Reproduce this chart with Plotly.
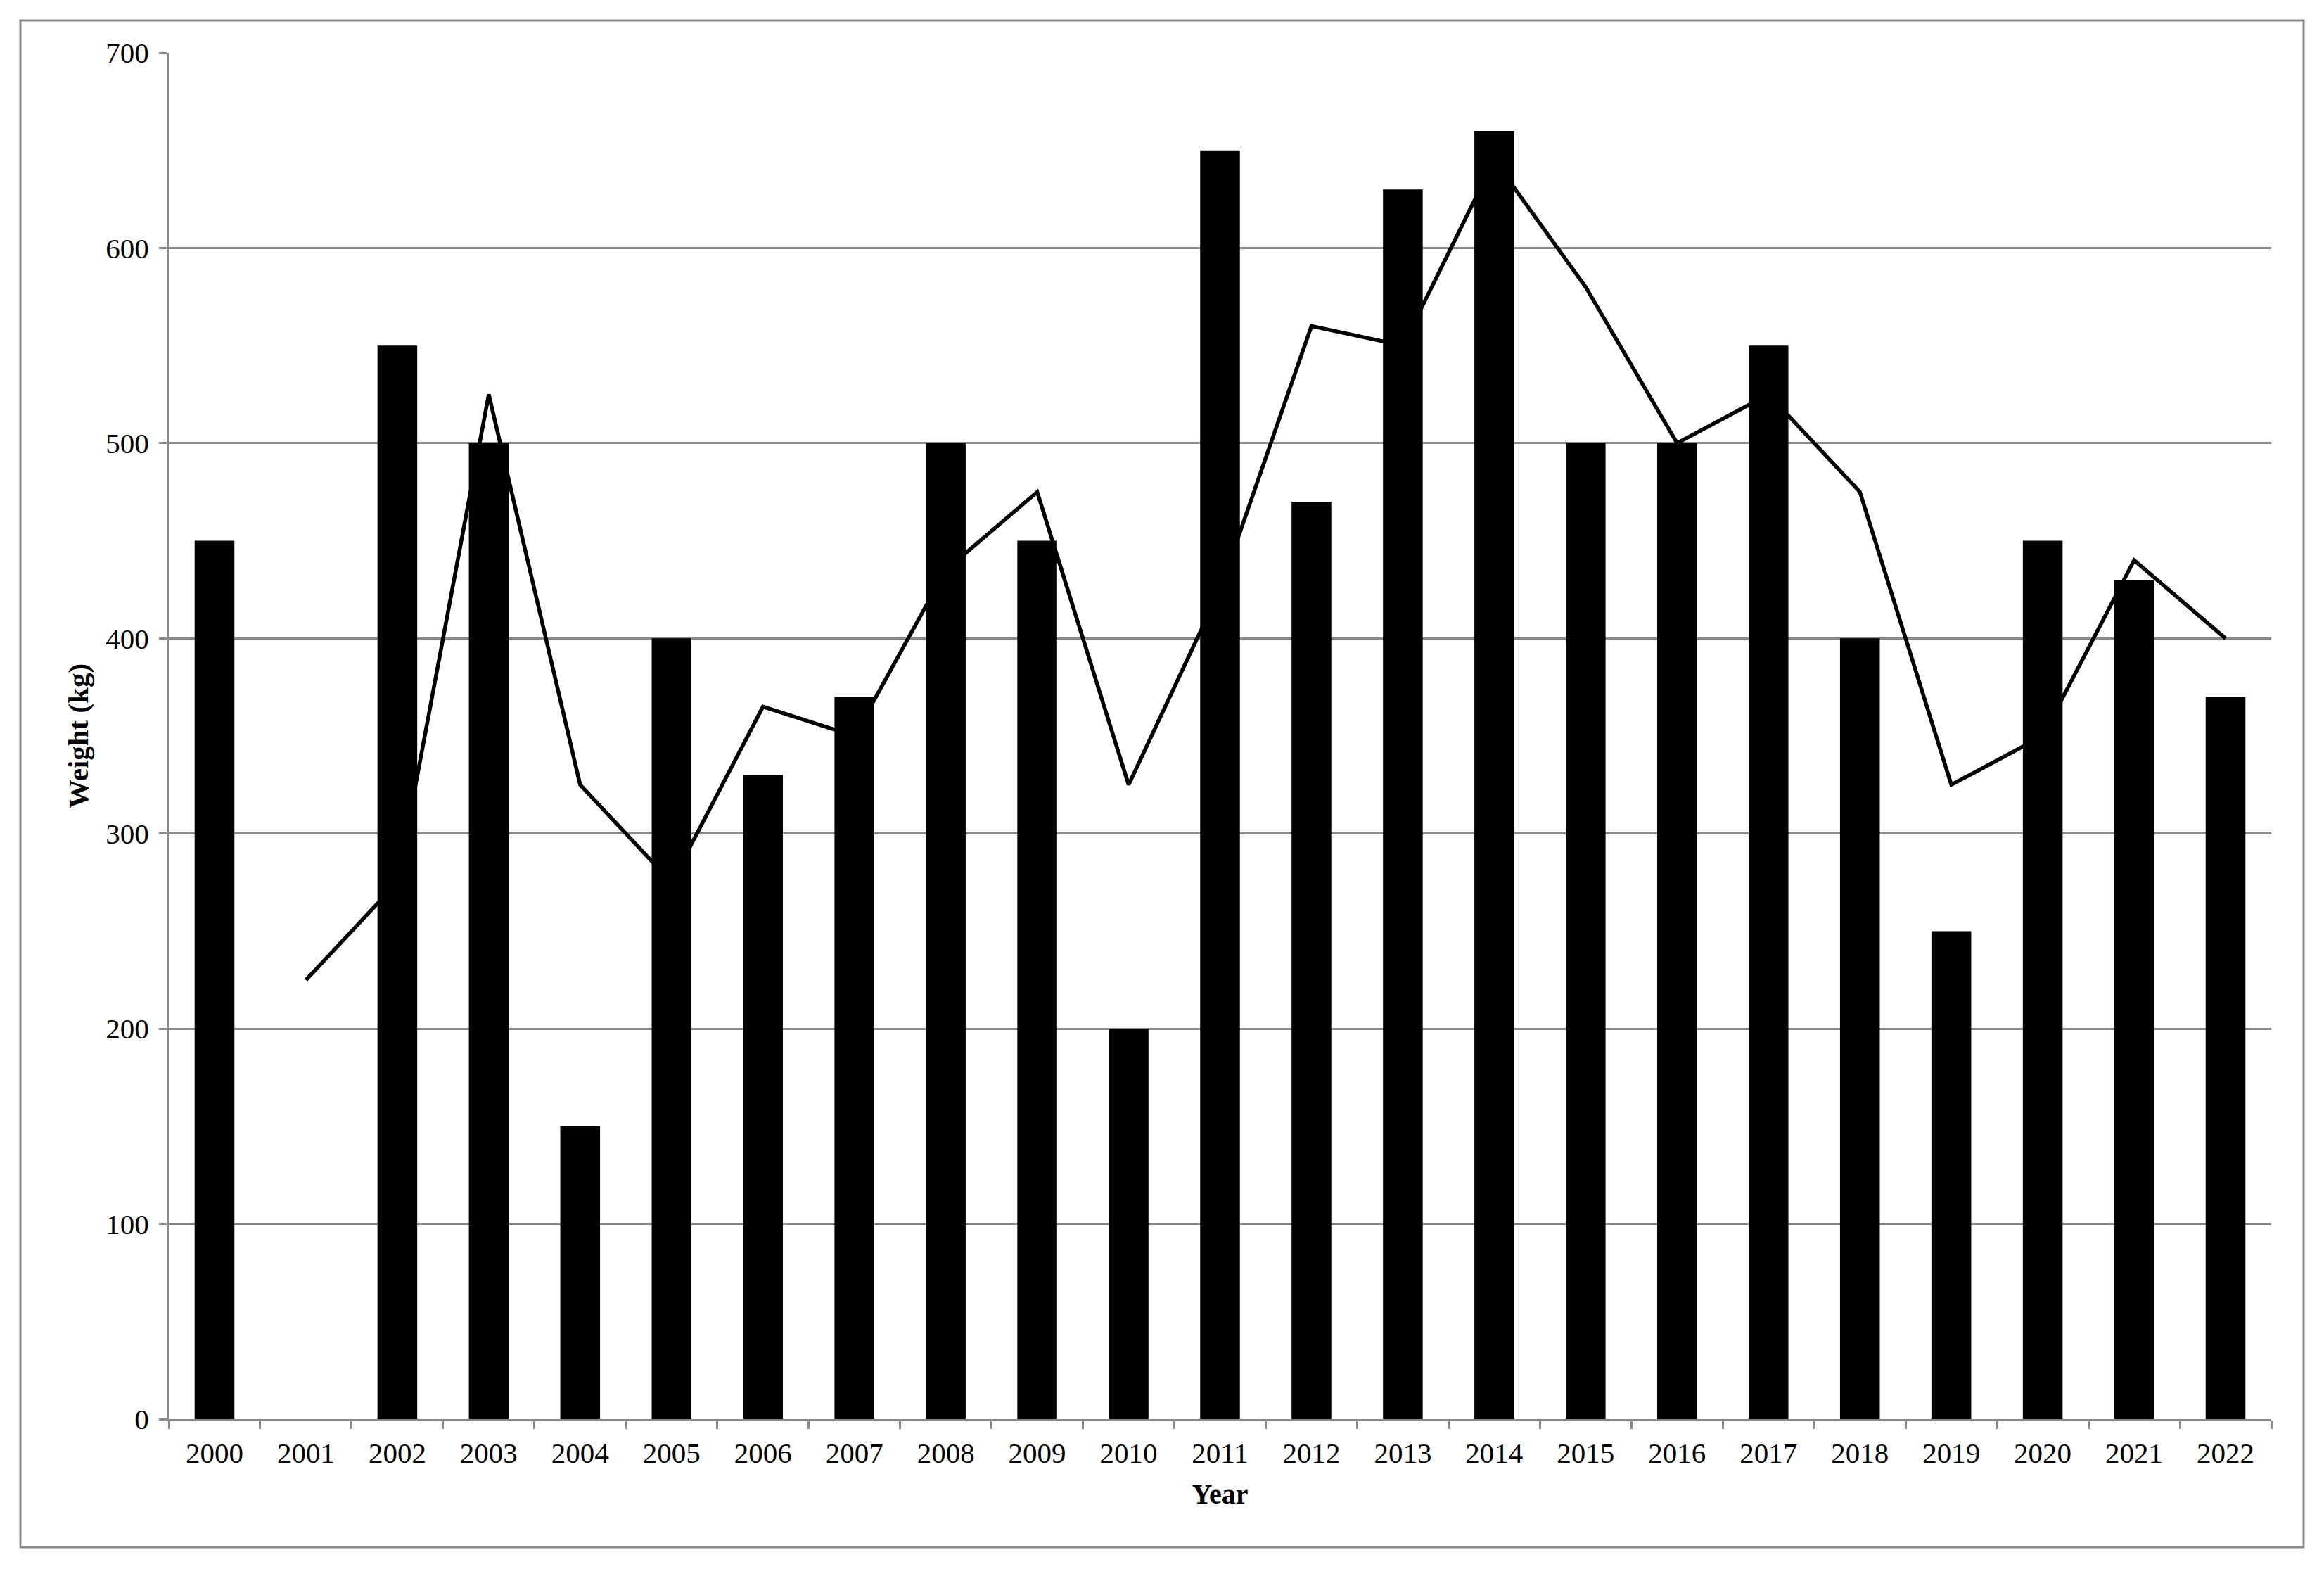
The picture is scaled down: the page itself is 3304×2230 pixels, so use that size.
import plotly.graph_objects as go

years = [str(y) for y in range(2000, 2023)]
weights = [450, 0, 550, 500, 150, 400, 330, 370, 500, 450, 200, 650,
           470, 630, 660, 500, 500, 550, 400, 250, 450, 430, 370]
trend_years = [str(y) for y in range(2001, 2023)]
trend_values = [225, 275, 525, 325, 275, 365, 350, 435, 475, 325, 425,
                560, 550, 645, 580, 500, 525, 475, 325, 350, 440, 400]

OFF = 8  # page body margin in the browser
W, H = 3304 - OFF, 2230 - OFF
L, R, T, B = 240 - OFF, 3229 - OFF, 75 - OFF, 2017 - OFF
GRAY = "#888888"
FONT = "Liberation Serif"

fig = go.Figure()
fig.add_trace(go.Scatter(x=trend_years, y=trend_values, mode="lines",
                         line=dict(color="black", width=5.5),
                         showlegend=False, hoverinfo="skip"))
fig.add_trace(go.Bar(x=years, y=weights, marker=dict(color="black", line=dict(width=0)),
                     showlegend=False))

fig.update_layout(
    width=W, height=H,
    margin=dict(l=L, r=W - R, t=T, b=H - B, pad=0),
    paper_bgcolor="white", plot_bgcolor="white",
    bargap=0.565,
    font=dict(family=FONT, color="black", size=41),
)
fig.update_xaxes(
    type="category", categoryorder="array", categoryarray=years,
    showline=True, linecolor=GRAY, linewidth=3,
    ticks="outside", tickson="boundaries", ticklen=11, tickwidth=3, tickcolor=GRAY,
    ticklabelstandoff=10,
    showgrid=False, tickfont=dict(family=FONT, size=41, color="black"),
    title=dict(text="<b>Year</b>", font=dict(family=FONT, size=40, color="black"), standoff=22),
)
fig.update_yaxes(
    range=[0, 700], dtick=100, tick0=0,
    showline=True, linecolor=GRAY, linewidth=3,
    ticks="outside", ticklen=11, tickwidth=3, tickcolor=GRAY,
    ticklabelstandoff=6,
    showgrid=True, gridcolor=GRAY, gridwidth=3, zeroline=False,
    tickfont=dict(family=FONT, size=41, color="black"),
    title=dict(text="<b>Weight (kg)</b>", font=dict(family=FONT, size=41, color="black"), standoff=12),
)

# outer chart border
pw, ph = R - L, B - T
bx0, by0, bx1, by1 = 29 - OFF, 29 - OFF, 3275 - OFF, 2199 - OFF
fig.add_shape(type="rect", xref="paper", yref="paper",
              x0=(bx0 - L) / pw, x1=(bx1 - L) / pw,
              y0=(B - by1) / ph, y1=(B - by0) / ph,
              line=dict(color=GRAY, width=3), fillcolor="rgba(0,0,0,0)", layer="below")

fig.write_html("out.html")
